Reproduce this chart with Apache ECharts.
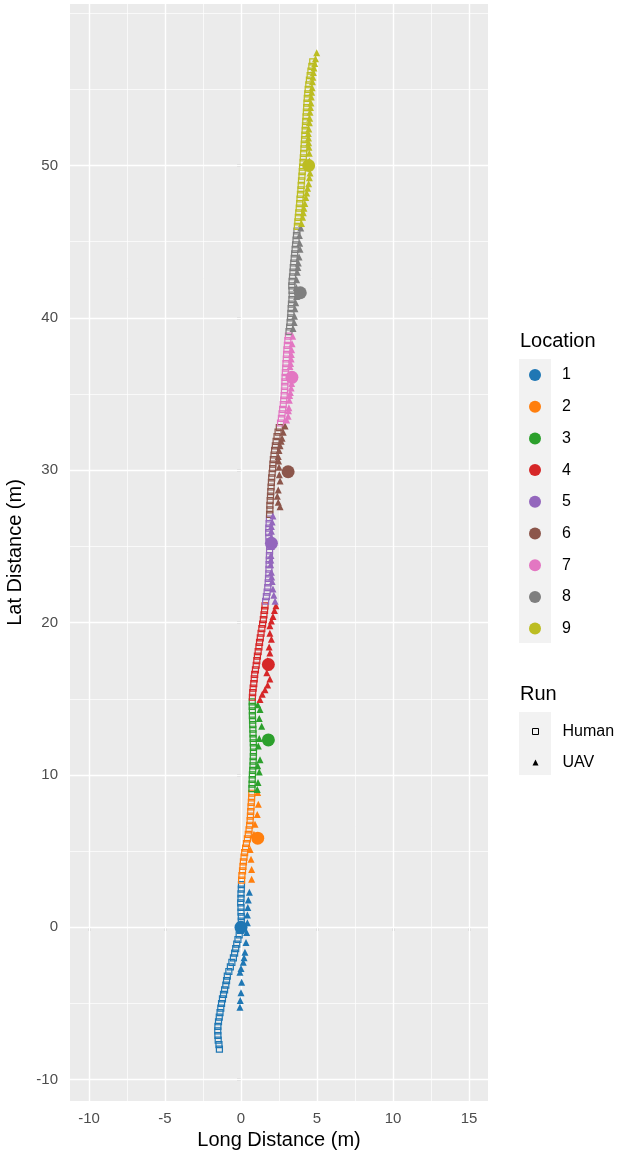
<!DOCTYPE html>
<html>
<head>
<meta charset="utf-8">
<title>Location tracks</title>
<script src="https://cdn.jsdelivr.net/npm/echarts@6.0.0/dist/echarts.min.js"></script>
<style>
  html, body { margin: 0; padding: 0; background: #fff; }
  #myChart { width: 617px; height: 1156px; }
</style>
</head>
<body>
<div id="myChart"></div>
<script>
// palette, one colour per location
var locColors = ['#1f77b4', '#ff7f0e', '#2ca02c', '#d62728', '#9467bd', '#8c564b', '#e377c2', '#7f7f7f', '#bcbd22'];
var locNames = ['1', '2', '3', '4', '5', '6', '7', '8', '9'];

// location markers [long, lat]
var locPoints = [[0.0, 0.0], [1.1, 5.85], [1.8, 12.3], [1.8, 17.25], [2.0, 25.2], [3.1, 29.9], [3.35, 36.1], [3.9, 41.65], [4.45, 50.0]];

// axis ticks
var xTicks = [-10, -5, 0, 5, 10, 15];
var xMinor = [-7.5, -2.5, 2.5, 7.5, 12.5];
var yTicks = [-10, 0, 10, 20, 30, 40, 50];
var yMinor = [-5, 5, 15, 25, 35, 45, 55, 60];

// human run, by location
var human1 = [[-1.42, -8.0], [-1.45, -7.7], [-1.5, -7.4], [-1.52, -7.1], [-1.53, -6.8], [-1.52, -6.5], [-1.48, -6.2], [-1.43, -5.9], [-1.38, -5.6], [-1.33, -5.3], [-1.28, -5.0], [-1.22, -4.7], [-1.15, -4.4], [-1.08, -4.1], [-1.0, -3.8], [-0.95, -3.5], [-0.9, -3.2], [-0.8, -2.9], [-0.7, -2.6], [-0.6, -2.3], [-0.5, -2.0], [-0.42, -1.7], [-0.35, -1.4], [-0.28, -1.1], [-0.2, -0.8], [-0.12, -0.5], [-0.05, -0.2], [0.0, 0.1], [0.02, 0.4], [0.02, 0.7], [0.0, 1.0], [0.0, 1.3], [-0.02, 1.6], [0.0, 1.9], [0.0, 2.2], [0.02, 2.5], [0.03, 2.8]];
var human2 = [[0.04, 3.1], [0.06, 3.4], [0.1, 3.7], [0.13, 4.0], [0.16, 4.3], [0.2, 4.6], [0.24, 4.9], [0.3, 5.2], [0.36, 5.5], [0.42, 5.8], [0.48, 6.1], [0.53, 6.4], [0.57, 6.7], [0.6, 7.0], [0.62, 7.3], [0.64, 7.6], [0.66, 7.9], [0.68, 8.2], [0.7, 8.5], [0.71, 8.8]];
var human3 = [[0.72, 9.1], [0.73, 9.4], [0.74, 9.7], [0.75, 10.0], [0.77, 10.3], [0.79, 10.6], [0.8, 10.9], [0.81, 11.2], [0.82, 11.5], [0.82, 11.8], [0.81, 12.1], [0.8, 12.4], [0.79, 12.7], [0.78, 13.0], [0.77, 13.3], [0.76, 13.6], [0.75, 13.9], [0.75, 14.2], [0.74, 14.5], [0.74, 14.8]];
var human4 = [[0.75, 15.1], [0.77, 15.4], [0.8, 15.7], [0.84, 16.0], [0.87, 16.3], [0.9, 16.6], [0.95, 16.9], [1.0, 17.2], [1.04, 17.5], [1.08, 17.8], [1.13, 18.1], [1.18, 18.4], [1.22, 18.7], [1.27, 19.0], [1.32, 19.3], [1.37, 19.6], [1.42, 19.9], [1.47, 20.2], [1.51, 20.5], [1.55, 20.8], [1.58, 21.1]];
var human5 = [[1.62, 21.4], [1.67, 21.7], [1.72, 22.0], [1.76, 22.3], [1.79, 22.6], [1.81, 22.9], [1.83, 23.2], [1.84, 23.5], [1.85, 23.8], [1.86, 24.1], [1.87, 24.4], [1.88, 24.7], [1.89, 25.0], [1.88, 25.3], [1.83, 25.6], [1.82, 25.9], [1.83, 26.2], [1.85, 26.5], [1.87, 26.8]];
var human6 = [[1.88, 27.1], [1.9, 27.4], [1.9, 27.7], [1.92, 28.0], [1.94, 28.3], [1.96, 28.6], [1.98, 28.9], [2.0, 29.2], [2.02, 29.5], [2.05, 29.8], [2.08, 30.1], [2.1, 30.4], [2.13, 30.7], [2.17, 31.0], [2.21, 31.3], [2.26, 31.6], [2.31, 31.9], [2.37, 32.2], [2.44, 32.5], [2.52, 32.8]];
var human7 = [[2.6, 33.1], [2.66, 33.4], [2.7, 33.7], [2.74, 34.0], [2.78, 34.3], [2.81, 34.6], [2.84, 34.9], [2.86, 35.2], [2.88, 35.5], [2.89, 35.8], [2.9, 36.1], [2.92, 36.4], [2.94, 36.7], [2.96, 37.0], [2.98, 37.3], [3.0, 37.6], [3.02, 37.9], [3.05, 38.2], [3.08, 38.5], [3.12, 38.8]];
var human8 = [[3.16, 39.1], [3.2, 39.4], [3.23, 39.7], [3.26, 40.0], [3.28, 40.3], [3.3, 40.6], [3.32, 40.9], [3.35, 41.2], [3.37, 41.5], [3.36, 41.8], [3.34, 42.1], [3.36, 42.4], [3.39, 42.7], [3.42, 43.0], [3.44, 43.3], [3.47, 43.6], [3.5, 43.9], [3.53, 44.2], [3.56, 44.5], [3.59, 44.8], [3.62, 45.1], [3.65, 45.4], [3.68, 45.7]];
var human9 = [[3.71, 46.0], [3.74, 46.3], [3.77, 46.6], [3.8, 46.9], [3.83, 47.2], [3.86, 47.5], [3.88, 47.8], [3.91, 48.1], [3.94, 48.4], [3.96, 48.7], [3.98, 49.0], [4.01, 49.3], [4.03, 49.6], [4.05, 49.9], [4.08, 50.2], [4.1, 50.5], [4.12, 50.8], [4.14, 51.1], [4.16, 51.4], [4.18, 51.7], [4.2, 52.0], [4.22, 52.3], [4.24, 52.6], [4.26, 52.9], [4.28, 53.2], [4.3, 53.5], [4.32, 53.8], [4.34, 54.1], [4.36, 54.4], [4.39, 54.7], [4.42, 55.0], [4.46, 55.3], [4.5, 55.6], [4.55, 55.9], [4.6, 56.2], [4.66, 56.5], [4.72, 56.8]];

// UAV run, by location
var uav1 = [[-0.07, -5.25], [-0.05, -4.8], [0.0, -4.3], [0.04, -3.6], [-0.07, -2.95], [0.0, -2.7], [0.15, -2.3], [0.2, -2.0], [0.26, -1.64], [0.33, -1.0], [0.37, -0.34], [0.42, 0.3], [0.42, 0.8], [0.45, 1.3], [0.48, 1.8], [0.55, 2.3]];
var uav2 = [[0.7, 3.15], [0.7, 3.8], [0.66, 4.46], [0.6, 5.1], [0.85, 6.1], [0.92, 6.76], [1.07, 7.4], [1.14, 8.07], [1.1, 8.85]];
var uav3 = [[1.07, 9.05], [1.12, 9.5], [1.2, 10.2], [1.1, 10.6], [1.25, 11.0], [1.14, 11.9], [1.2, 12.4], [1.36, 13.2], [1.2, 13.7], [1.25, 14.3], [1.1, 14.6]];
var uav4 = [[1.25, 14.96], [1.4, 15.3], [1.58, 15.6], [1.75, 15.9], [1.9, 16.3], [1.7, 16.7], [1.8, 17.1], [1.75, 17.5], [1.9, 18.0], [1.85, 18.4], [2.0, 18.9], [1.9, 19.3], [1.9, 19.8], [2.0, 20.1], [2.1, 20.4], [2.2, 20.8], [2.3, 21.1]];
var uav5 = [[2.24, 21.4], [2.16, 21.8], [2.1, 22.2], [2.05, 22.7], [2.02, 23.0], [2.0, 23.3], [1.95, 23.8], [1.96, 24.1], [1.97, 24.4], [2.0, 25.0], [2.0, 25.6], [2.0, 26.0], [2.0, 26.3], [2.05, 26.6], [2.1, 27.0]];
var uav6 = [[2.57, 27.6], [2.45, 27.9], [2.39, 28.3], [2.45, 28.7], [2.57, 29.3], [2.52, 29.7], [2.5, 30.2], [2.47, 30.6], [2.45, 30.9], [2.5, 31.3], [2.57, 31.6], [2.64, 31.9], [2.7, 32.1], [2.78, 32.5], [2.9, 32.9]];
var uav7 = [[3.0, 33.3], [3.1, 33.55], [3.12, 33.9], [3.15, 34.1], [3.18, 34.6], [3.2, 34.9], [3.25, 35.1], [3.3, 35.4], [3.33, 35.7], [3.28, 36.3], [3.22, 36.8], [3.26, 37.0], [3.3, 37.3], [3.31, 37.6], [3.33, 37.9], [3.36, 38.3], [3.4, 38.8]];
var uav8 = [[3.42, 39.3], [3.5, 39.7], [3.52, 40.1], [3.55, 40.6], [3.6, 41.0], [3.66, 41.4], [3.64, 42.0], [3.66, 42.5], [3.7, 43.0], [3.74, 43.3], [3.77, 43.6], [3.82, 44.0], [3.88, 44.5], [3.86, 44.9], [3.84, 45.4], [3.93, 45.9]];
var uav9 = [[3.98, 46.2], [4.05, 46.6], [4.1, 46.9], [4.14, 47.2], [4.2, 47.5], [4.26, 47.9], [4.32, 48.2], [4.38, 48.5], [4.45, 48.8], [4.5, 49.2], [4.54, 49.5], [4.52, 49.9], [4.5, 50.3], [4.49, 50.8], [4.47, 51.2], [4.45, 51.5], [4.44, 51.8], [4.43, 52.1], [4.46, 52.4], [4.5, 52.8], [4.52, 53.1], [4.54, 53.5], [4.57, 53.8], [4.6, 54.1], [4.62, 54.5], [4.65, 54.8], [4.68, 55.1], [4.7, 55.5], [4.73, 55.8], [4.76, 56.1], [4.8, 56.4], [4.85, 56.7], [4.9, 57.0], [4.98, 57.4]];

var humanRuns = [human1, human2, human3, human4, human5, human6, human7, human8, human9];
var uavRuns = [uav1, uav2, uav3, uav4, uav5, uav6, uav7, uav8, uav9];

var FONT = '"Liberation Sans", Arial, sans-serif';

var mycharts = echarts.init(document.getElementById('myChart'), null, { renderer: 'canvas' });

// gridlines as mark lines (white on grey, ggplot style)
function gridLines(vals, key, width) {
  return vals.map(function (v) {
    var d = { lineStyle: { width: width } };
    d[key] = v;
    return d;
  });
}

var series = [];
series.push({
  type: 'line',
  data: [],
  silent: true,
  z: 1,
  markLine: {
    z: 1,
    silent: true,
    symbol: ['none', 'none'],
    label: { show: false },
    lineStyle: { color: '#ffffff', type: 'solid', opacity: 1 },
    emphasis: { disabled: true },
    animation: false,
    data: []
      .concat(gridLines(xMinor, 'xAxis', 0.7))
      .concat(gridLines(yMinor, 'yAxis', 0.7))
      .concat(gridLines(xTicks, 'xAxis', 1.4))
      .concat(gridLines(yTicks, 'yAxis', 1.4))
  }
});

for (var i = 0; i < 9; i++) {
  series.push({
    name: 'Human',
    type: 'scatter',
    z: 2,
    symbol: 'rect',
    symbolSize: 6,
    itemStyle: { color: 'rgba(0,0,0,0)', borderColor: locColors[i], borderWidth: 1.2, opacity: 1 },
    data: humanRuns[i]
  });
}
for (var j = 0; j < 9; j++) {
  series.push({
    name: 'UAV',
    type: 'scatter',
    z: 3,
    symbol: 'triangle',
    symbolSize: 7,
    itemStyle: { color: locColors[j], opacity: 1 },
    data: uavRuns[j]
  });
}
for (var k = 0; k < 9; k++) {
  series.push({
    name: locNames[k],
    type: 'scatter',
    z: 4,
    symbol: 'circle',
    symbolSize: 13,
    itemStyle: { color: locColors[k], opacity: 1 },
    data: [locPoints[k]]
  });
}

var option = {
  animation: false,
  backgroundColor: '#ffffff',
  textStyle: { fontFamily: FONT },
  grid: {
    left: 70,
    right: 129,
    top: 4,
    bottom: 55,
    containLabel: false,
    outerBoundsMode: 'none',
    show: true,
    backgroundColor: '#EBEBEB',
    borderWidth: 0
  },
  xAxis: {
    type: 'value',
    min: -11.25,
    max: 16.25,
    name: 'Long Distance (m)',
    nameLocation: 'middle',
    nameGap: 28,
    nameTextStyle: { color: '#000', fontSize: 20, fontFamily: FONT },
    axisLine: { show: false },
    axisTick: { show: true, length: 4, customValues: xTicks, lineStyle: { color: '#333', width: 1.2 } },
    axisLabel: { customValues: xTicks, color: '#4D4D4D', fontSize: 15, margin: 10, fontFamily: FONT },
    splitLine: { show: false }
  },
  yAxis: {
    type: 'value',
    min: -11.4,
    max: 60.6,
    name: 'Lat Distance (m)',
    nameLocation: 'middle',
    nameGap: 32,
    nameTextStyle: { color: '#000', fontSize: 20, fontFamily: FONT },
    axisLine: { show: false },
    axisTick: { show: true, length: 4, customValues: yTicks, lineStyle: { color: '#333', width: 1.2 } },
    axisLabel: { customValues: yTicks, color: '#4D4D4D', fontSize: 15, margin: 12, fontFamily: FONT },
    splitLine: { show: false }
  },
  legend: [
    {
      data: locNames.map(function (n) { return { name: n, icon: 'circle', itemStyle: { opacity: 1 } }; }),
      orient: 'vertical',
      left: 524,
      top: 362,
      itemWidth: 12,
      itemHeight: 12,
      itemGap: 15.7,
      selectedMode: false,
      textStyle: { color: '#000', fontSize: 16, fontFamily: FONT, lineHeight: 12, padding: [0, 0, 0, 16] }
    },
    {
      data: [
        { name: 'Human', icon: 'rect', itemStyle: { color: 'rgba(0,0,0,0)', borderColor: '#000', borderWidth: 1, opacity: 1 } },
        { name: 'UAV', icon: 'triangle', itemStyle: { color: '#000', opacity: 1 } }
      ],
      orient: 'vertical',
      left: 527,
      top: 718.5,
      itemWidth: 6,
      itemHeight: 6,
      itemGap: 15,
      selectedMode: false,
      textStyle: { color: '#000', fontSize: 16, fontFamily: FONT, lineHeight: 6, padding: [0, 0, 0, 19] }
    }
  ],
  graphic: [
    { type: 'rect', z: 0, shape: { x: 519, y: 359, width: 32, height: 284 }, style: { fill: '#F2F2F2' } },
    { type: 'rect', z: 0, shape: { x: 519, y: 712, width: 32, height: 63 }, style: { fill: '#F2F2F2' } },
    { type: 'text', z: 5, x: 520, y: 341, style: { text: 'Location', fill: '#000', font: '20px ' + FONT, textVerticalAlign: 'middle' } },
    { type: 'text', z: 5, x: 520, y: 694, style: { text: 'Run', fill: '#000', font: '20px ' + FONT, textVerticalAlign: 'middle' } }
  ],
  series: series
};

mycharts.setOption(option);
</script>
</body>
</html>
